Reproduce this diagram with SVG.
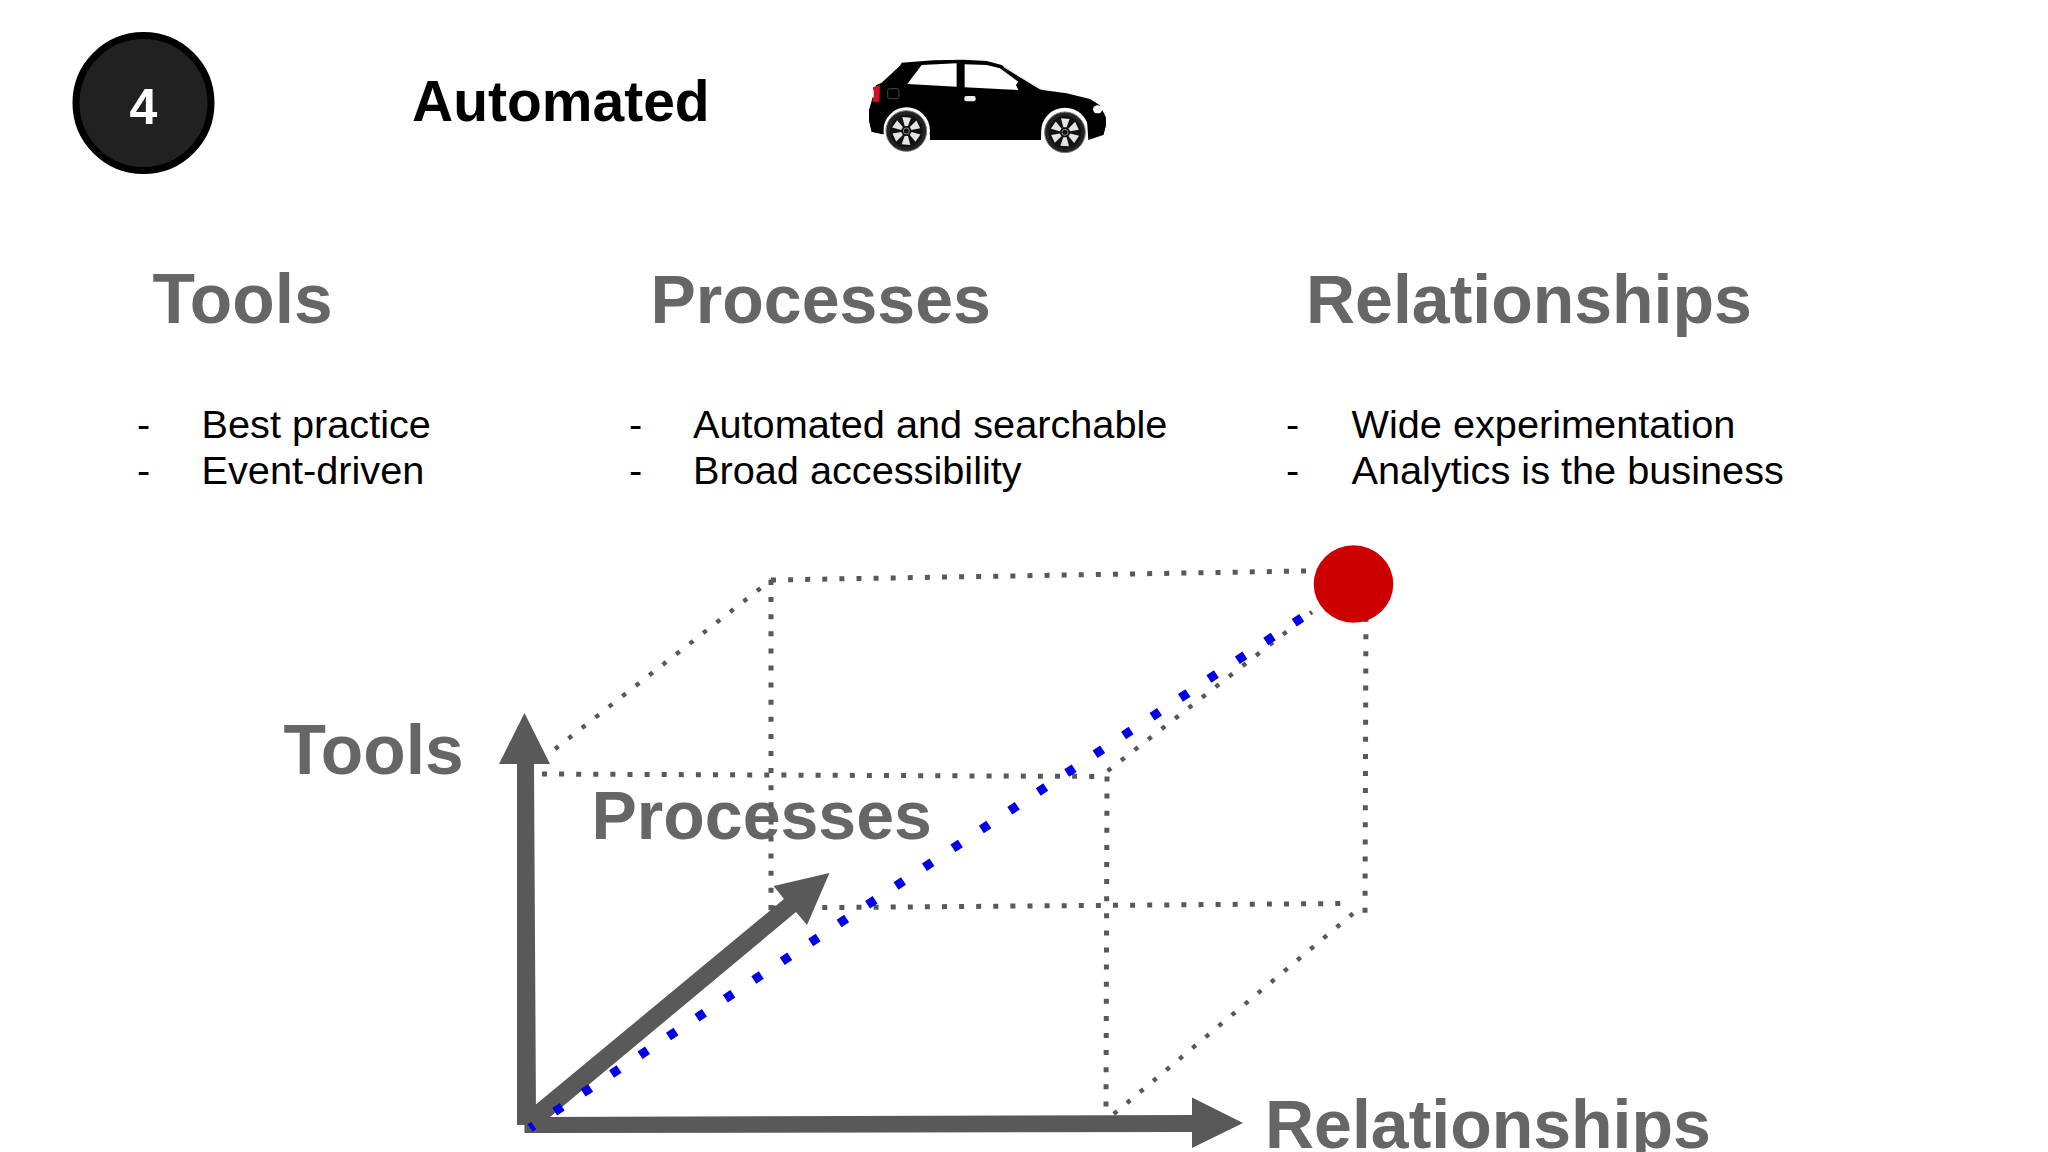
<svg xmlns="http://www.w3.org/2000/svg" width="2048" height="1152" viewBox="0 0 2048 1152">
<style>
text{font-family:"Liberation Sans",Arial,sans-serif}
.h{font-size:68px;font-weight:700;fill:#666}
.b{font-size:39.7px;fill:#000}
.d{fill:none;stroke:#595959;stroke-width:5;stroke-dasharray:5 12.1}
.dd{fill:none;stroke:#595959;stroke-width:4.4;stroke-dasharray:4.4 12.7}
.ax{fill:#595959}
.sp{fill:#e4e4e4}
</style>
<defs>
<g id="wheel">
<circle r="61" fill="#222" stroke="#777" stroke-width="3"/>
<circle r="49" fill="#111"/>
<g class="sp">
<path id="spoke" d="M-5 -15L5 -15L14 -40L-12 -42Z"/>
<use href="#spoke" transform="rotate(60)"/>
<use href="#spoke" transform="rotate(120)"/>
<use href="#spoke" transform="rotate(180)"/>
<use href="#spoke" transform="rotate(240)"/>
<use href="#spoke" transform="rotate(300)"/>
</g>
<circle r="9" fill="#111" stroke="#bbb" stroke-width="2"/>
</g>
</defs>
<rect width="2048" height="1152" fill="#fff"/>

<g id="badge">
<circle cx="143.5" cy="103" r="67.5" fill="#212121" stroke="#000" stroke-width="7"/>
<text x="143.5" y="124" font-size="50" font-weight="700" fill="#fff" text-anchor="middle">4</text>
</g>
<g id="title"><text x="412" y="120.5" font-size="57" font-weight="700" fill="#000">Automated</text></g>

<g id="car" transform="translate(800,0) scale(.3333)">
<path d="M207 330L215 302L228 256L245 248L300 197L305 188L400 181L490 179L560 183L605 195L650 225L715 265L728 270L800 280L870 297L900 316L917 350L918 375L910 405L865 420L723 420L390 420L250 403L215 395L207 360Z" fill="#000"/>
<path d="M610 200L722 268" stroke="#ddd" stroke-width="3" fill="none"/>
<circle cx="320" cy="392" r="70" fill="#fff"/>
<circle cx="795" cy="395" r="72" fill="#fff"/>
<rect x="210" y="404" width="700" height="60" fill="#fff"/>
<path d="M250 403L215 395L207 360L250 360ZM390 330L725 330L723 420L390 420ZM860 340L917 350L918 375L910 405L865 420Z" fill="#000"/>
<use href="#wheel" x="319" y="393"/>
<use href="#wheel" x="795" y="397"/>
<path d="M322 252L365 195L470 190L470 260Z" fill="#fff"/>
<path d="M494 193L560 195L600 205L655 245L648 255L655 270L494 262Z" fill="#fff"/>
<rect x="493" y="288" width="34" height="16" rx="6" fill="#eee"/>
<path d="M219 262L240 256L238 305L219 306Z" fill="#d01020"/>
<path d="M215 272L221 270L221 292L213 292Z" fill="#fff"/>
<ellipse cx="893" cy="328" rx="14" ry="12" fill="#fff"/>
<rect x="263" y="266" width="34" height="30" rx="6" fill="none" stroke="#555" stroke-width="2.5"/>
</g>

<g id="heading-tools"><text class="h" x="152.5" y="322.7" font-size="69.5" style="font-size:69.5px">Tools</text></g>
<g id="heading-processes"><text class="h" x="650.5" y="322.7">Processes</text></g>
<g id="heading-relationships"><text class="h" x="1306" y="322.7">Relationships</text></g>

<g id="list-tools">
<text class="b" x="137" y="438">-</text><text class="b" x="201.5" y="438">Best practice</text>
<text class="b" x="137" y="483.5">-</text><text class="b" x="201.5" y="483.5">Event-driven</text>
</g>
<g id="list-processes">
<text class="b" x="629" y="438">-</text><text class="b" x="693" y="438">Automated and searchable</text>
<text class="b" x="629" y="483.5">-</text><text class="b" x="693" y="483.5">Broad accessibility</text>
</g>
<g id="list-relationships">
<text class="b" x="1286" y="438">-</text><text class="b" x="1351.5" y="438">Wide experimentation</text>
<text class="b" x="1286" y="483.5">-</text><text class="b" x="1351.5" y="483.5">Analytics is the business</text>
</g>

<g id="axis-label-tools"><text class="h" x="283.5" y="774" style="font-size:69.5px">Tools</text></g>
<g id="axis-label-processes"><text class="h" x="591.5" y="839">Processes</text></g>
<g id="axis-label-relationships"><text class="h" x="1265" y="1148">Relationships</text></g>

<g id="connectors">
<path class="d" d="M542 774L1106 776.5"/>
<path class="d" d="M1107 776.5L1106 1110"/>
<path class="d" d="M771 580L771 910"/>
<path class="d" d="M771 580L1306 571"/>
<path class="d" d="M771 908L1345 903.5"/>
<path class="d" d="M1366 600L1365 915"/>
<path class="dd" d="M555 749L771 580"/>
<path class="dd" d="M1107.6 771L1312 612"/>
<path class="dd" d="M1113.8 1114L1362 906"/>
<polygon class="ax" points="517,1125 517,764 499,764 524.5,713 550,764 534,764 536,1117 1192,1115 1192,1097.5 1243,1123 1192,1148 1192,1132 524.5,1133 524.5,1125"/>
<polygon class="ax" points="524.5,1125 534,1106 784,899 773.6,886 829.5,873 807,925 796,912 550,1117 536,1128"/>
<path d="M530 1128L1302 617.5" fill="none" stroke="#0000e6" stroke-width="9" stroke-dasharray="9 25.1" stroke-dashoffset="4.5"/>
</g>

<g id="marker"><ellipse cx="1353.5" cy="584" rx="39.8" ry="38.7" fill="#cc0000"/></g>
</svg>
